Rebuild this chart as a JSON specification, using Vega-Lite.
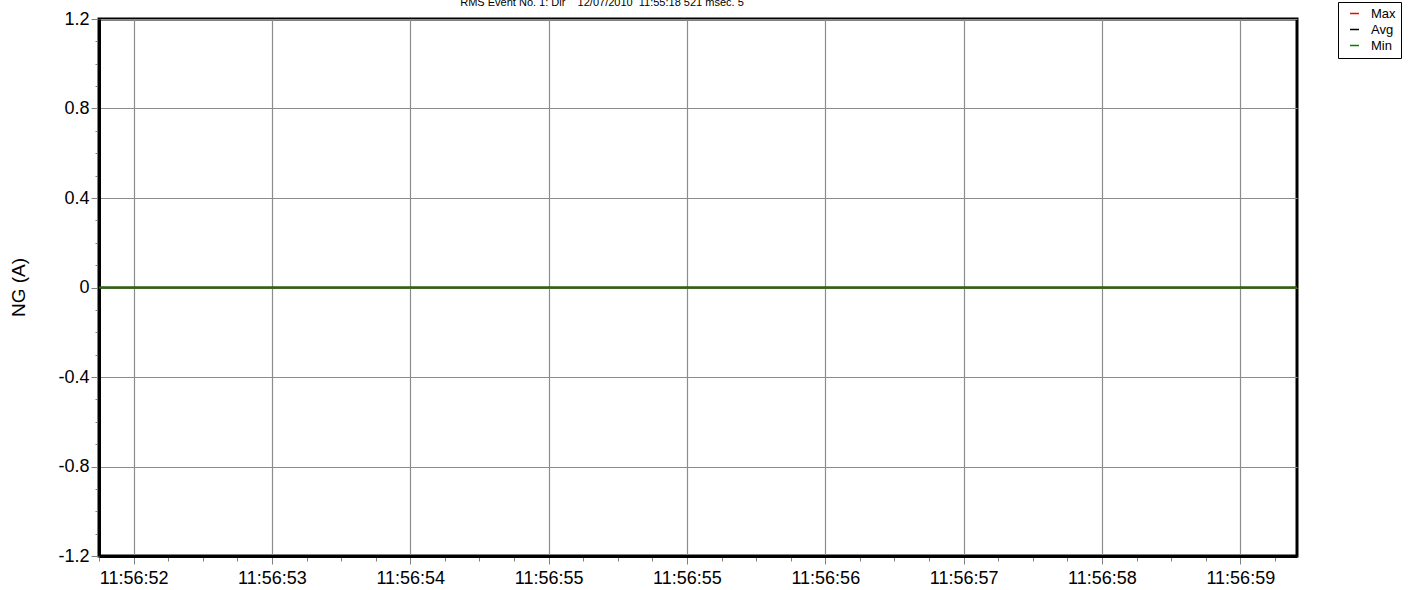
{
  "$schema": "https://vega.github.io/schema/vega-lite/v6.json",
  "width": 1198,
  "height": 537,
  "autosize": {"type": "none"},
  "padding": {"left": 99, "top": 19, "right": 115, "bottom": 34},
  "background": "white",
  "title": {
    "text": "RMS Event No. 1: Dir\u00a0\u00a0\u00a0\u00a012/07/2010\u00a0\u00a011:55:18 521 msec. 5",
    "anchor": "middle",
    "frame": "group",
    "dx": -96,
    "dy": 15,
    "offset": 0,
    "baseline": "alphabetic",
    "fontSize": 11,
    "fontWeight": "normal",
    "font": "Liberation Sans",
    "color": "#000000"
  },
  "data": {
    "values": [
      {"t": -0.25, "value": 0, "series": "Max"},
      {"t": 0, "value": 0, "series": "Max"},
      {"t": 1, "value": 0, "series": "Max"},
      {"t": 2, "value": 0, "series": "Max"},
      {"t": 3, "value": 0, "series": "Max"},
      {"t": 4, "value": 0, "series": "Max"},
      {"t": 5, "value": 0, "series": "Max"},
      {"t": 6, "value": 0, "series": "Max"},
      {"t": 7, "value": 0, "series": "Max"},
      {"t": 8, "value": 0, "series": "Max"},
      {"t": 8.41, "value": 0, "series": "Max"},
      {"t": -0.25, "value": 0, "series": "Avg"},
      {"t": 0, "value": 0, "series": "Avg"},
      {"t": 1, "value": 0, "series": "Avg"},
      {"t": 2, "value": 0, "series": "Avg"},
      {"t": 3, "value": 0, "series": "Avg"},
      {"t": 4, "value": 0, "series": "Avg"},
      {"t": 5, "value": 0, "series": "Avg"},
      {"t": 6, "value": 0, "series": "Avg"},
      {"t": 7, "value": 0, "series": "Avg"},
      {"t": 8, "value": 0, "series": "Avg"},
      {"t": 8.41, "value": 0, "series": "Avg"},
      {"t": -0.25, "value": 0, "series": "Min"},
      {"t": 0, "value": 0, "series": "Min"},
      {"t": 1, "value": 0, "series": "Min"},
      {"t": 2, "value": 0, "series": "Min"},
      {"t": 3, "value": 0, "series": "Min"},
      {"t": 4, "value": 0, "series": "Min"},
      {"t": 5, "value": 0, "series": "Min"},
      {"t": 6, "value": 0, "series": "Min"},
      {"t": 7, "value": 0, "series": "Min"},
      {"t": 8, "value": 0, "series": "Min"},
      {"t": 8.41, "value": 0, "series": "Min"}
    ]
  },
  "layer": [
    {
      "transform": [{"filter": "datum.series != 'Min'"}],
      "mark": {"type": "line", "strokeWidth": 1.5, "clip": true},
      "encoding": {
        "x": {"field": "t", "type": "quantitative"},
        "y": {"field": "value", "type": "quantitative"},
        "color": {"field": "series", "type": "nominal"}
      }
    },
    {
      "transform": [{"filter": "datum.series == 'Min'"}],
      "mark": {"type": "line", "strokeWidth": 2, "clip": true},
      "encoding": {
        "x": {"field": "t", "type": "quantitative"},
        "y": {"field": "value", "type": "quantitative"},
        "color": {"field": "series", "type": "nominal"}
      }
    }
  ],
  "encoding": {
    "x": {
      "field": "t",
      "type": "quantitative",
      "scale": {"domain": [-0.25, 8.41], "nice": false, "zero": false},
      "axis": {
        "title": null,
        "values": [-0.25, 0, 0.25, 0.5, 0.75, 1, 1.25, 1.5, 1.75, 2, 2.25, 2.5, 2.75, 3, 3.25, 3.5, 3.75, 4, 4.25, 4.5, 4.75, 5, 5.25, 5.5, 5.75, 6, 6.25, 6.5, 6.75, 7, 7.25, 7.5, 7.75, 8, 8.25],
        "labelExpr": "datum.value % 1 == 0 ? ['11:56:52','11:56:53','11:56:54','11:56:55','11:56:55','11:56:56','11:56:57','11:56:58','11:56:59'][datum.value] : ''",
        "labelOverlap": false,
        "labelFlush": false,
        "labelFontSize": 18,
        "labelPadding": 5,
        "tickSize": {"condition": {"test": "datum.value % 1 == 0", "value": 8}, "value": 5},
        "gridOpacity": {"condition": {"test": "datum.value % 1 == 0", "value": 1}, "value": 0}
      }
    },
    "y": {
      "field": "value",
      "type": "quantitative",
      "scale": {"domain": [-1.2, 1.2], "nice": false, "zero": false},
      "axis": {
        "title": "NG (A)",
        "titleFontSize": 19,
        "titleFontWeight": "normal",
        "titleX": -81,
        "titleY": 268,
        "titleAngle": -90,
        "titleBaseline": "middle",
        "titleAlign": "center",
        "values": [-1.2, -1.1, -1, -0.9, -0.8, -0.7, -0.6, -0.5, -0.4, -0.3, -0.2, -0.1, 0, 0.1, 0.2, 0.3, 0.4, 0.5, 0.6, 0.7, 0.8, 0.9, 1, 1.1, 1.2],
        "labelExpr": "round(datum.value * 10) % 4 == 0 ? (round(datum.value * 10) == 0 ? '0' : (datum.value < 0 ? '-' + format(-datum.value, '.1f') : format(datum.value, '.1f'))) : ''",
        "labelOverlap": false,
        "labelFlush": false,
        "labelFontSize": 18,
        "labelPadding": 2,
        "tickSize": {"condition": {"test": "round(datum.value * 10) % 4 == 0", "value": 8}, "value": 4},
        "gridOpacity": {"condition": {"test": "round(datum.value * 10) % 4 == 0", "value": 1}, "value": 0}
      }
    },
    "color": {
      "field": "series",
      "type": "nominal",
      "scale": {"domain": ["Max", "Avg", "Min"], "range": ["#ff0000", "#000000", "#008000"]},
      "legend": {
        "title": null,
        "orient": "none",
        "legendX": 1239,
        "legendY": -17,
        "symbolType": "stroke",
        "symbolSize": 81,
        "symbolStrokeWidth": 1.5,
        "symbolOffset": 5,
        "labelFontSize": 13,
        "labelOffset": 10,
        "rowPadding": 2,
        "padding": 5,
        "strokeColor": "#000000",
        "fillColor": "#ffffff"
      }
    }
  },
  "config": {
    "font": "Liberation Sans",
    "view": {"stroke": "#000000", "strokeWidth": 3},
    "axis": {
      "domainColor": "#000000",
      "domainWidth": 3,
      "tickColor": "#808080",
      "tickWidth": 1,
      "gridColor": "#8c8c8c",
      "gridWidth": 1.2,
      "labelColor": "#000000",
      "titleColor": "#000000",
      "labelFont": "Liberation Sans",
      "titleFont": "Liberation Sans"
    },
    "legend": {"labelFont": "Liberation Sans", "labelColor": "#000000"}
  }
}
